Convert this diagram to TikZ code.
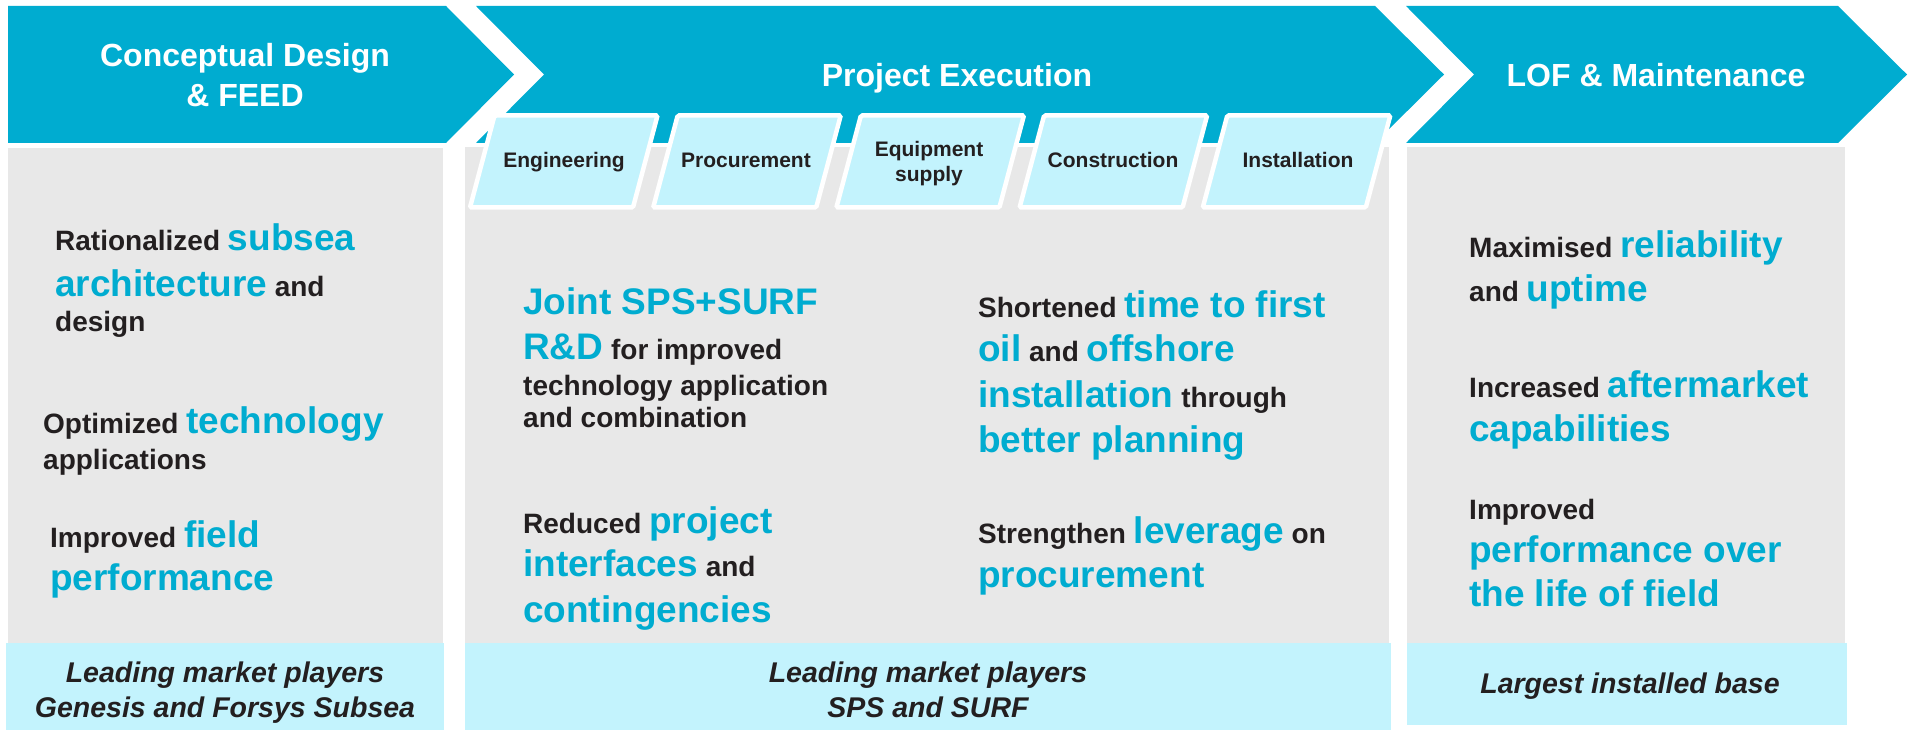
\documentclass[tikz,border=0pt]{standalone}
\usepackage{fontspec}
\setmainfont{Liberation Sans}
\definecolor{cblue}{RGB}{0,172,208}
\definecolor{cgray}{RGB}{232,232,232}
\definecolor{ccyan}{RGB}{195,243,253}
\definecolor{cdark}{RGB}{35,31,32}
\newcommand\bg[1]{{\fontsize{37}{44}\selectfont\color{cblue}#1}}
\begin{document}
\begin{tikzpicture}[x=1pt,y=-1pt,
  chev/.style={fill=cblue},
  panel/.style={fill=cgray},
  barbox/.style={fill=ccyan},
  subbox/.style={fill=ccyan,draw=white,line width=4.5pt,rounded corners=1.5pt},
  head/.style={text=white,font=\bfseries\fontsize{32}{40}\selectfont,anchor=base,inner sep=0},
  ln/.style={anchor=base west,inner sep=0,font=\bfseries\fontsize{28}{32}\selectfont,text=cdark},
  sublbl/.style={anchor=base,inner sep=0,font=\bfseries\fontsize{21}{25}\selectfont,text=cdark},
  barlbl/.style={anchor=base,inner sep=0,font=\bfseries\itshape\fontsize{28.5}{35}\selectfont,text=cdark}]
\useasboundingbox (0,0) rectangle (1914,730);
\fill[white] (0,0) rectangle (1914,730);
% chevrons
\fill[chev] (8,6) -- (446,6) -- (514,74.5) -- (446,143) -- (8,143) -- cycle;
\fill[chev] (476,6) -- (1375,6) -- (1444,74.5) -- (1375,143) -- (476,143) -- (544,74.5) -- cycle;
\fill[chev] (1406,6) -- (1838,6) -- (1907,74.5) -- (1838,143) -- (1406,143) -- (1474,74.5) -- cycle;
% panels
\fill[panel] (8,148) rectangle (443,643);
\fill[panel] (465,147) rectangle (1389,643);
\fill[panel] (1407,147) rectangle (1845,643);
% bars
\fill[barbox] (6,643) rectangle (444,730);
\fill[barbox] (465,643) rectangle (1391,730);
\fill[barbox] (1407,643) rectangle (1847,725);
% sub boxes
\foreach \i in {0,...,4}{
  \pgfmathsetmacro\xa{494.5+183.2*\i}
  \draw[subbox] (\xa,115.5) -- ++(163,0) -- ++(-24.5,92) -- ++(-163,0) -- cycle;
}
% headings
\node[head] (h1a) at (245,67) {Conceptual Design};
\node[head] (h1b) at (245,107) {\& FEED};
\node[head] (h2) at (957,87) {Project Execution};
\node[head] (h3) at (1656,87) {LOF \& Maintenance};
% sub labels
\node[sublbl] (s1) at (564,168) {Engineering};
\node[sublbl] (s2) at (746,168) {Procurement};
\node[sublbl] (s3a) at (929,157) {Equipment};
\node[sublbl] (s3b) at (929,182) {supply};
\node[sublbl] (s4) at (1113,168) {Construction};
\node[sublbl] (s5) at (1298,168) {Installation};
% panel 1
\node[ln] (p1a) at (55,251) {Rationalized \bg{subsea}};
\node[ln] (p1b) at (55,296) {\bg{architecture} and};
\node[ln] (p1c) at (55,331) {design};
\node[ln] (p1d) at (43,433) {Optimized \bg{technology}};
\node[ln] (p1e) at (43,469) {applications};
\node[ln] (p1f) at (50,547) {Improved \bg{field}};
\node[ln] (p1g) at (50,590) {\bg{performance}};
% panel 2 left
\node[ln] (p2a) at (523,314) {\bg{Joint SPS+SURF}};
\node[ln] (p2b) at (523,359) {\bg{R\&D} for improved};
\node[ln] (p2c) at (523,395) {technology application};
\node[ln] (p2d) at (523,427) {and combination};
\node[ln] (p2e) at (523,533) {Reduced \bg{project}};
\node[ln] (p2f) at (523,576) {\bg{interfaces} and};
\node[ln] (p2g) at (523,622) {\bg{contingencies}};
% panel 2 right
\node[ln] (p2h) at (978,317) {Shortened \bg{time to first}};
\node[ln] (p2i) at (978,361) {\bg{oil} and \bg{offshore}};
\node[ln] (p2j) at (978,407) {\bg{installation} through};
\node[ln] (p2k) at (978,452) {\bg{better planning}};
\node[ln] (p2l) at (978,543) {Strengthen \bg{leverage} on};
\node[ln] (p2m) at (978,587) {\bg{procurement}};
% panel 3
\node[ln] (p3a) at (1469,257) {Maximised \bg{reliability}};
\node[ln] (p3b) at (1469,301) {and \bg{uptime}};
\node[ln] (p3c) at (1469,397) {Increased \bg{aftermarket}};
\node[ln] (p3d) at (1469,441) {\bg{capabilities}};
\node[ln] (p3e) at (1469,519) {Improved};
\node[ln] (p3f) at (1469,562) {\bg{performance over}};
\node[ln] (p3g) at (1469,606) {\bg{the life of field}};
% bar labels
\node[barlbl] (b1a) at (225,682) {Leading market players};
\node[barlbl] (b1b) at (225,717) {Genesis and Forsys Subsea};
\node[barlbl] (b2a) at (928,682) {Leading market players};
\node[barlbl] (b2b) at (928,717) {SPS and SURF};
\node[barlbl] (b3) at (1630,693) {Largest installed base};
\end{tikzpicture}
\end{document}
